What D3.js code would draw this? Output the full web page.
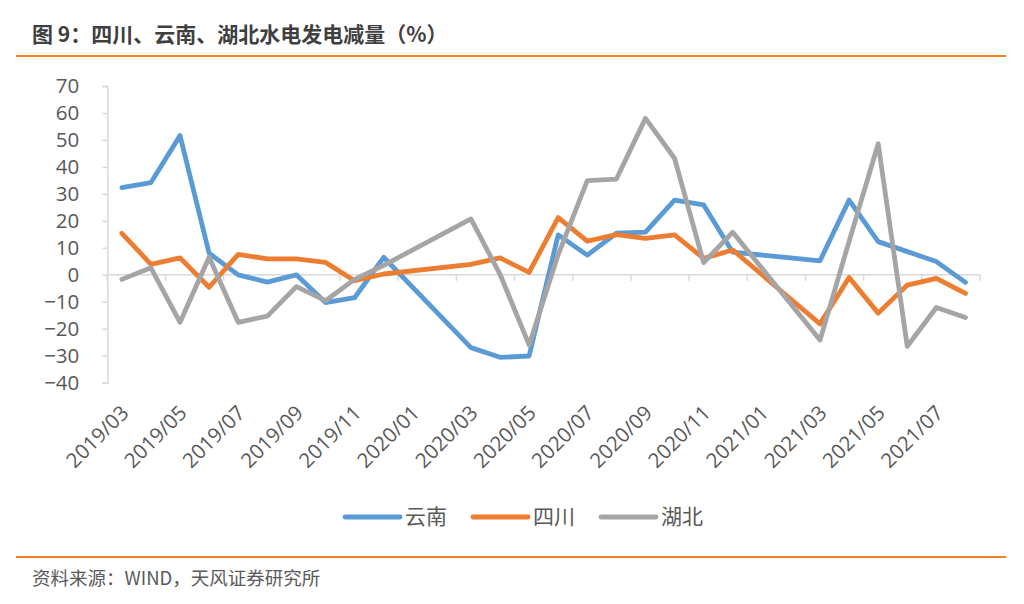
<!DOCTYPE html>
<html><head><meta charset="utf-8">
<script src="https://cdn.jsdelivr.net/npm/d3@7"></script>
<style>body{margin:0;background:#fff;} svg{display:block}</style>
</head><body><svg id="c" width="1024" height="604"></svg>
<script>
// ---- data ----
const months = ["2019/03","2019/04","2019/05","2019/06","2019/07","2019/08","2019/09","2019/10","2019/11","2019/12",
  "2020/01","2020/02","2020/03","2020/04","2020/05","2020/06","2020/07","2020/08","2020/09","2020/10","2020/11","2020/12",
  "2021/01","2021/02","2021/03","2021/04","2021/05","2021/06","2021/07","2021/08"];
const yunnan  = [32.3, 34.2, 51.6, 8.0, 0.0, -2.7, 0.0, -10.3, -8.5, 6.5, null, null, -27.0, -30.6, -30.1, 14.8, 7.3, 15.4, 15.8, 27.7, 25.9, 8.4, null, null, 5.2, 27.7, 12.3, 8.6, 4.9, -2.8];
const sichuan = [15.4, 3.9, 6.3, -4.6, 7.6, 5.9, 5.9, 4.6, -2.2, 0.3, null, null, 3.9, 6.3, 0.9, 21.2, 12.5, 14.9, 13.5, 14.8, 6.1, 9.2, null, null, -18.2, -1.0, -14.2, -3.8, -1.3, -6.9];
const hubei   = [-1.7, 2.6, -17.6, 6.5, -17.6, -15.3, -4.4, -9.6, -1.7, 3.5, null, null, 20.7, 0.2, -26.0, 7.5, 34.9, 35.5, 58.0, 43.2, 4.5, 15.8, null, null, -24.2, 12.4, 48.6, -26.5, -12.1, -15.8];
const seriesNames = ["云南", "四川", "湖北"];
const seriesColors = ["#5B9BD5", "#ED7D31", "#A5A5A5"];
const yTicks = [-40, -30, -20, -10, 0, 10, 20, 30, 40, 50, 60, 70];
const xTickLabels = months.filter((m, i) => i % 2 === 0);
const titleText = "图 9：四川、云南、湖北水电发电减量（%）";
const sourceText = "资料来源：WIND，天风证券研究所";

// ---- drawing ----
const svg = d3.select("#c");
const txt = "#595959";
const numFont = "'Open Sans', 'Noto Sans', sans-serif";
const cjkFont = "'Noto Sans CJK SC', 'Noto Sans', sans-serif";

// title & rules
svg.append("text").attr("x", 32).attr("y", 42)
  .attr("font-family", cjkFont).attr("font-weight", 700).attr("font-size", 21)
  .attr("fill", "#404040").text(titleText);
svg.append("line").attr("x1", 16).attr("x2", 1006).attr("y1", 56).attr("y2", 56)
  .attr("stroke", "#F08224").attr("stroke-width", 2);
svg.append("line").attr("x1", 16).attr("x2", 1006).attr("y1", 557).attr("y2", 557)
  .attr("stroke", "#F08224").attr("stroke-width", 2);
svg.append("text").attr("x", 32).attr("y", 585)
  .attr("font-family", cjkFont).attr("font-size", 18.5)
  .attr("fill", txt).text(sourceText);

const x = d3.scaleBand().domain(months).range([107.3, 980]).padding(0);
const y = d3.scaleLinear().domain([-40, 70]).range([382.7, 86]);
const cx = m => x(m) + x.bandwidth() / 2;

// y axis
const yAxis = svg.append("g").attr("transform", "translate(107.3,0)")
  .call(d3.axisLeft(y).tickValues(yTicks).tickSize(5).tickPadding(23).tickFormat(d3.format("d")));
yAxis.select(".domain").attr("stroke", "#D9D9D9").attr("stroke-width", 1.5);
yAxis.selectAll(".tick line").attr("stroke", "#D9D9D9").attr("stroke-width", 1.5);
yAxis.selectAll(".tick text").attr("font-family", numFont).attr("font-size", 20.5).attr("fill", txt);

// x axis at zero
const xAxisG = svg.append("g").attr("transform", `translate(0,${y(0)})`);
xAxisG.append("line").attr("x1", 107.3).attr("x2", 980).attr("stroke", "#D9D9D9").attr("stroke-width", 1.5);
const tickBounds = d3.range(0, months.length + 1, 2).map(i => 107.3 + i * x.step());
xAxisG.selectAll(".xt").data(tickBounds).join("line").attr("class", "xt")
  .attr("x1", d => d).attr("x2", d => d).attr("y1", 0).attr("y2", 6)
  .attr("stroke", "#D9D9D9").attr("stroke-width", 1.5);

// x labels (rotated)
svg.append("g").selectAll("text").data(xTickLabels).join("text")
  .attr("transform", d => `translate(${cx(d) + 3},${409}) rotate(-45)`)
  .attr("text-anchor", "end").attr("dy", "0.35em")
  .attr("font-family", numFont).attr("font-size", 20.5).attr("fill", txt)
  .text(d => d);

// series lines
const seriesData = [yunnan, sichuan, hubei];
const line = d3.line().x(d => cx(d.m)).y(d => y(d.v));
seriesData.forEach((vals, k) => {
  const pts = months.map((m, i) => ({ m, v: vals[i] })).filter(d => d.v !== null);
  svg.append("path").datum(pts).attr("d", line)
    .attr("fill", "none").attr("stroke", seriesColors[k]).attr("stroke-width", 4.8)
    .attr("stroke-linejoin", "round").attr("stroke-linecap", "round");
});

// legend
const legendX = [345, 473, 601];
const lg = svg.append("g");
seriesNames.forEach((name, k) => {
  lg.append("line").attr("x1", legendX[k]).attr("x2", legendX[k] + 55)
    .attr("y1", 517).attr("y2", 517)
    .attr("stroke", seriesColors[k]).attr("stroke-width", 4.8).attr("stroke-linecap", "round");
  lg.append("text").attr("x", legendX[k] + 60).attr("y", 524)
    .attr("font-family", cjkFont).attr("font-size", 21).attr("fill", txt).text(name);
});
</script>
</body></html>
